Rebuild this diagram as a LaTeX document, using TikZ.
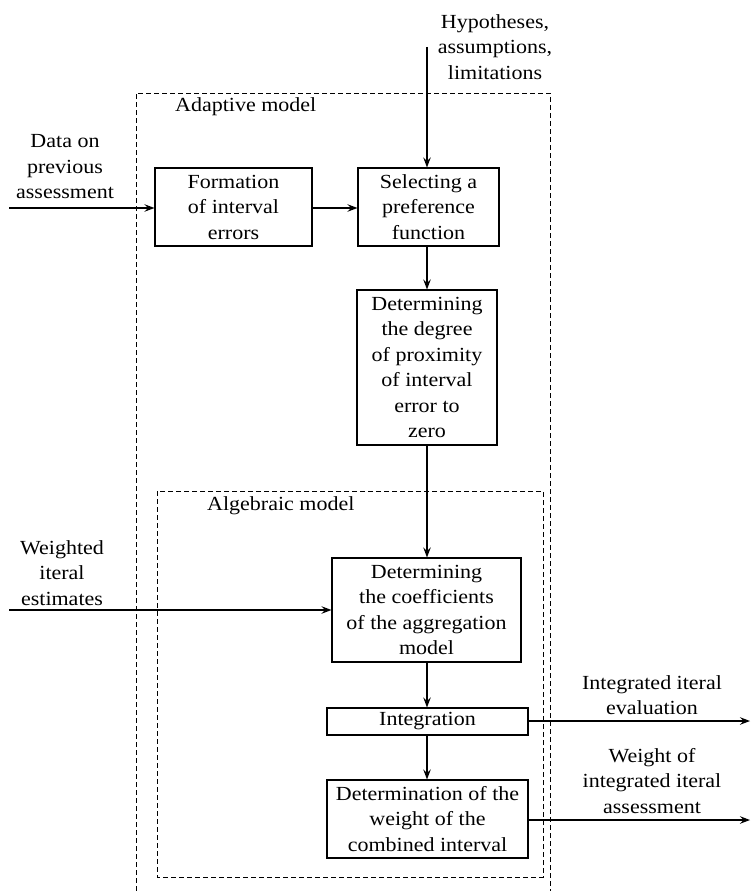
\documentclass[tikz,border=0pt]{standalone}
\usepackage{fontspec}
\setmainfont[FakeStretch=1.1]{Liberation Serif}
\usetikzlibrary{arrows.meta}
\begin{document}
\begin{tikzpicture}[
x=1pt, y=-1pt,
font=\fontsize{20}{25.5}\selectfont,
block/.style={rectangle, draw=black, line width=1.1pt, align=center, inner sep=0pt},
note/.style={align=center, inner sep=0pt},
zone/.style={draw=black, line width=0.9pt, dash pattern=on 5pt off 3pt},
flow/.style={line width=1.1pt, -{Stealth[length=10pt, width=7.5pt, inset=3.5pt]}},
]
\useasboundingbox (0,0) rectangle (750,891);
% dashed frames
\draw[zone] (136,891) -- (136,93) -- (550,93) -- (550,891);
\draw[zone] (157,491) rectangle (543,877);
\node[note, anchor=west] (adaptive) at (175,107) {Adaptive model};
\node[note, anchor=west] (algebraic) at (207,506) {Algebraic model};
% blocks
\node[block, minimum width=157, minimum height=78] (form) at (233.5,207) {Formation\\of interval\\errors};
\node[block, minimum width=141, minimum height=78] (select) at (428.5,207) {Selecting a\\preference\\function};
\node[block, minimum width=140, minimum height=155] (prox) at (427,367.5) {Determining\\the degree\\of proximity\\of interval\\error to\\zero};
\node[block, minimum width=189, minimum height=104] (coef) at (426.5,610) {Determining\\the coefficients\\of the aggregation\\model};
\node[block, minimum width=201, minimum height=27] (integ) at (427.5,721.5) {Integration};
\node[block, minimum width=201, minimum height=78] (weight) at (427.5,819) {Determination of the\\weight of the\\combined interval};
% inputs and outputs
\node[note] (hyp) at (495,47) {Hypotheses,\\assumptions,\\limitations};
\node[note] (data) at (65,167) {Data on\\previous\\assessment};
\node[note] (weighted) at (62,573) {Weighted\\iteral\\estimates};
\node[note] (inteval) at (652,695) {Integrated iteral\\evaluation};
\node[note] (wout) at (652,781) {Weight of\\integrated iteral\\assessment};
\coordinate (hypin) at (427,47);
\coordinate (datain) at (9,208);
\coordinate (wtin) at (9,610);
\coordinate (evalout) at (750,721);
\coordinate (weightout) at (750,820);
% connectors
\draw[flow] (hypin) -- (hypin |- select.north);
\draw[flow] (datain) -- (datain -| form.west);
\draw[flow] (form.east |- datain) -- (select.west |- datain);
\draw[flow] (select.south -| hypin) -- (prox.north -| hypin);
\draw[flow] (prox.south -| hypin) -- (coef.north -| hypin);
\draw[flow] (wtin) -- (wtin -| coef.west);
\draw[flow] (coef.south -| hypin) -- (integ.north -| hypin);
\draw[flow] (integ.south -| hypin) -- (weight.north -| hypin);
\draw[flow] (integ.east |- evalout) -- (evalout);
\draw[flow] (weight.east |- weightout) -- (weightout);
\end{tikzpicture}
\end{document}
